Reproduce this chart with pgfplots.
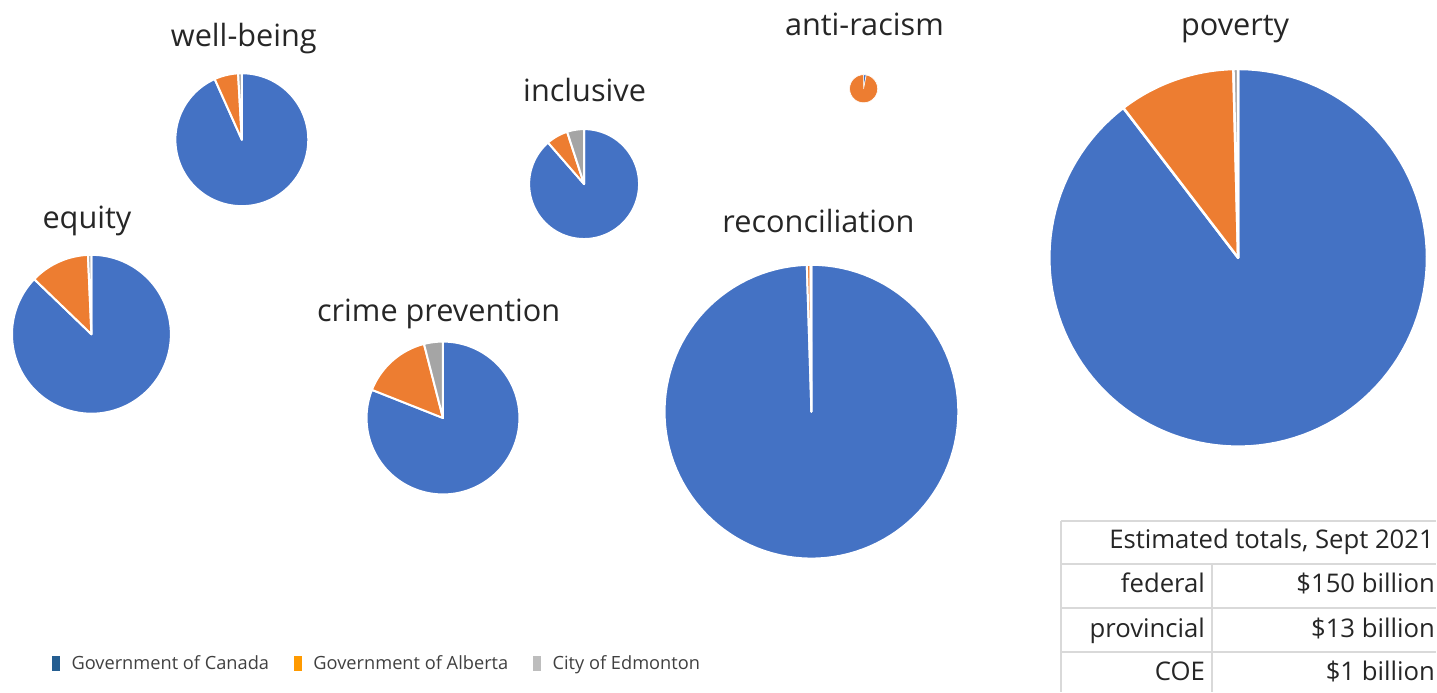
\documentclass[border=0pt]{standalone}
\usepackage{pgfplots}
\pgfplotsset{compat=1.18}
\usepackage{fontspec}
\setmainfont{Open Sans}
\definecolor{pieblue}{HTML}{4472C4}
\definecolor{pieorange}{HTML}{ED7D31}
\definecolor{piegray}{HTML}{A5A5A5}
\definecolor{legblue}{HTML}{255E91}
\definecolor{legorange}{HTML}{FF9A00}
\definecolor{leggray}{HTML}{BDBDBD}
\definecolor{titlecol}{HTML}{262626}
\definecolor{legtext}{HTML}{404040}
\definecolor{tabline}{HTML}{D9D9D9}

% one slice: cx cy r angle-from angle-to colour linewidth
\newcommand{\slice}[7]{%
  \edef\doslice{\noexpand\addplot[forget plot, fill=#6, draw=white, line width=#7, line join=round, domain=#4:#5, samples=120] ({#1+#3*cos(x)},{#2+#3*sin(x)}) -- (axis cs:#1,#2) -- cycle;}%
  \doslice}
% one pie: cx cy r share(Canada) share(Alberta) share(Edmonton) linewidth
\newcommand{\pie}[7]{%
  \pgfmathsetmacro\aA{90-360*#4}%
  \pgfmathsetmacro\aB{\aA-360*#5}%
  \pgfmathsetmacro\aC{\aB-360*#6}%
  \slice{#1}{#2}{#3}{\aA}{90}{pieblue}{#7}%
  \slice{#1}{#2}{#3}{\aB}{\aA}{pieorange}{#7}%
  \ifdim #6pt>0pt \slice{#1}{#2}{#3}{\aC}{\aB}{piegray}{#7}\fi
}

\begin{document}
\begin{tikzpicture}
\begin{axis}[
  width=1437bp, height=692bp, scale only axis,
  xmin=0, xmax=1437, ymin=0, ymax=692,
  hide axis, clip=false,
  legend columns=3,
  legend style={at={(axis cs:52,28)}, anchor=west, draw=none, fill=none,
    font=\fontsize{18.3}{22}\selectfont\color{legtext}, inner sep=0pt,
    /tikz/every odd column/.append style={column sep=12bp},
    /tikz/every even column/.append style={column sep=25bp},
    nodes={inner sep=0pt, anchor=west}},
]
\path (axis cs:0,0) rectangle (axis cs:1437,692);
% well-being
\pie{242}{552.2}{66.5}{0.933}{0.058}{0.009}{2bp}
% equity
\pie{91.5}{357.5}{79.5}{0.872}{0.121}{0.007}{2bp}
% inclusive
\pie{584.5}{507.8}{55}{0.886}{0.064}{0.050}{2bp}
% crime prevention
\pie{443.3}{273.7}{76.5}{0.810}{0.150}{0.040}{2bp}
% anti-racism
\pie{864.2}{603.2}{14}{0.03}{0.97}{0}{0.6bp}
% reconciliation
\pie{812}{280}{147}{0.995}{0.004}{0.001}{2bp}
% poverty
\pie{1239}{434}{189}{0.896}{0.100}{0.004}{2.5bp}

\addlegendimage{legend image code/.code={\fill[legblue] (0bp,-7bp) rectangle (7bp,7bp);}}
\addlegendentry{Government of Canada}
\addlegendimage{legend image code/.code={\fill[legorange] (0bp,-7bp) rectangle (7bp,7bp);}}
\addlegendentry{Government of Alberta}
\addlegendimage{legend image code/.code={\fill[leggray] (0bp,-7bp) rectangle (7bp,7bp);}}
\addlegendentry{City of Edmonton}

% titles
\begin{scope}[every node/.style={anchor=base, inner sep=0pt, text=titlecol, font=\fontsize{30.8}{36}\selectfont}]
\node at (axis cs:244,645) {well-being};
\node at (axis cs:87,463) {equity};
\node at (axis cs:585,590) {inclusive};
\node at (axis cs:439,370) {crime prevention};
\node at (axis cs:865,656.3) {anti-racism};
\node at (axis cs:819,459) {reconciliation};
\node at (axis cs:1236,656.3) {poverty};
\end{scope}

% table
\begin{scope}[line width=2bp, tabline]
\draw (axis cs:1062,171) -- (axis cs:1437,171);
\draw (axis cs:1062,128) -- (axis cs:1437,128);
\draw (axis cs:1062,84) -- (axis cs:1437,84);
\draw (axis cs:1062,40) -- (axis cs:1437,40);
\draw (axis cs:1062,171) -- (axis cs:1062,0);
\draw (axis cs:1213,128) -- (axis cs:1213,0);
\end{scope}
\begin{scope}[every node/.style={anchor=base east, inner sep=0pt, text=titlecol, font=\fontsize{25.8}{30}\selectfont}]
\node at (axis cs:1435,143) {Estimated totals, Sept 2021};
\node at (axis cs:1206,98.7) {federal};
\node at (axis cs:1436,98.7) {\$150 billion};
\node at (axis cs:1206,54.5) {provincial};
\node at (axis cs:1436,54.5) {\$13 billion};
\node at (axis cs:1206,11) {COE};
\node at (axis cs:1436,11) {\$1 billion};
\end{scope}
\end{axis}
\end{tikzpicture}
\end{document}
